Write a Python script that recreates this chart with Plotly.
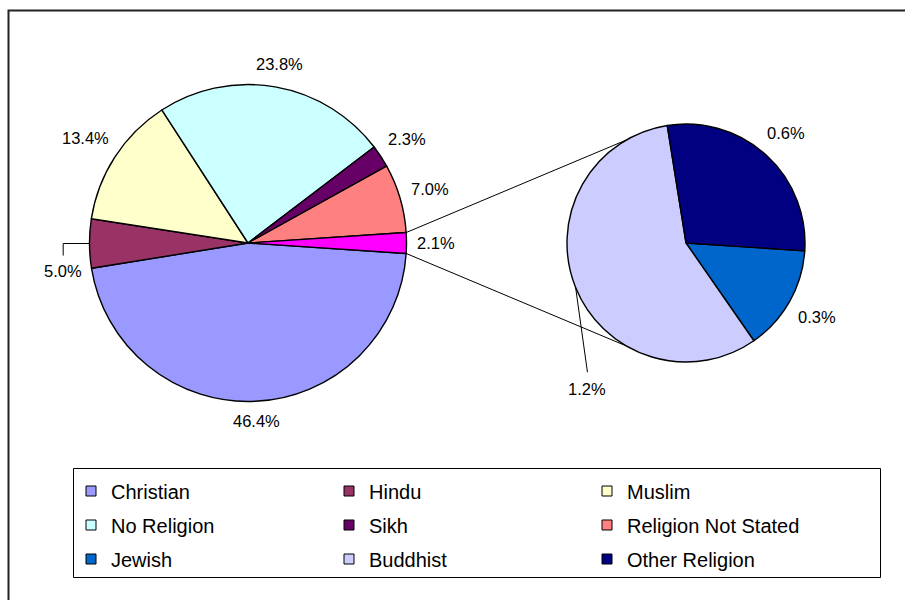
import math
import plotly.graph_objects as go

# ---------------- data ----------------
main_labels = ["Christian", "Hindu", "Muslim", "No Religion", "Sikh",
               "Religion Not Stated", "Other"]
main_values = [46.4, 5.0, 13.4, 23.8, 2.3, 7.0, 2.1]
main_colors = ["#9999FF", "#993366", "#FFFFCC", "#CCFFFF", "#660066",
               "#FF8080", "#FF00FF"]

sub_labels = ["Jewish", "Buddhist", "Other Religion"]
sub_values = [0.3, 1.2, 0.6]
sub_colors = ["#0066CC", "#CCCCFF", "#000080"]

legend_rows = [["Christian", "Hindu", "Muslim"],
               ["No Religion", "Sikh", "Religion Not Stated"],
               ["Jewish", "Buddhist", "Other Religion"]]

# ---------------- layout / style (pixels) ----------------
W, H = 905, 600
FONT = "Liberation Sans, Arial, sans-serif"
LABEL_SIZE = 16.5
mc = (248.0, 243.0); mr = 158.5
sc = (686.0, 243.0); sr = 119.0
LABEL_GAP = 11
# manually displaced labels (pixel offsets from their default spot) with leader lines
moved = {"Hindu": (3.5, 27.0), "Buddhist": (41.0, 90.0)}

all_colors = dict(zip(main_labels + sub_labels, main_colors + sub_colors))


def px_x(x):
    return x / W


def px_y(y):
    return 1 - y / H


total = sum(main_values)
half = 360.0 * main_values[-1] / total / 2.0
rotation = 90 + half           # first slice starts just below 3 o'clock

fig = go.Figure()

pies = [(main_labels, main_values, main_colors, mc, mr),
        (sub_labels, sub_values, sub_colors, sc, sr)]

annotations = []
shapes = []


def text_width(s, size):
    w = 0.0
    for ch in s:
        w += {".": 0.278, "%": 0.889}.get(ch, 0.556)
    return w * size


for labels, values, colors, c, r in pies:
    fig.add_trace(go.Pie(
        labels=labels, values=values, sort=False, direction="clockwise",
        rotation=rotation, showlegend=False, textinfo="none",
        marker=dict(colors=colors, line=dict(color="black", width=1.4)),
        domain=dict(x=[px_x(c[0] - r), px_x(c[0] + r)],
                    y=[px_y(c[1] + r), px_y(c[1] - r)]),
        hoverinfo="label+value",
    ))
    tot = sum(values)
    ang = half                  # clockwise from 3 o'clock (screen coords)
    for lab, v in zip(labels, values):
        span = 360.0 * v / tot
        mid = math.radians(ang + span / 2.0)
        ang += span
        txt = f"{v:.1f}%"
        dx, dy = math.cos(mid), math.sin(mid)
        w = text_width(txt, LABEL_SIZE)
        ext = abs(dx) * w / 2 + abs(dy) * 8
        d = r + LABEL_GAP + ext
        lx, ly = c[0] + dx * d, c[1] + dy * d
        if lab in moved:
            ox, oy = moved[lab]
            lx += ox; ly += oy
            ex, ey = c[0] + dx * r, c[1] + dy * r
            if abs(dx) > 0.99:   # horizontal then vertical elbow
                pts = [(ex, ey), (lx, ey), (lx, ly - 15)]
            else:
                pts = [(ex, ey), (lx, ly - 17)]
            for (x0, y0), (x1, y1) in zip(pts[:-1], pts[1:]):
                shapes.append(dict(type="line", xref="paper", yref="paper",
                                   x0=px_x(x0), y0=px_y(y0), x1=px_x(x1), y1=px_y(y1),
                                   line=dict(color="black", width=1)))
        annotations.append(dict(
            x=px_x(lx), y=px_y(ly), xref="paper", yref="paper",
            text=txt, showarrow=False, xanchor="center", yanchor="middle",
            font=dict(family=FONT, size=LABEL_SIZE, color="black")))

# legend entries (dummy traces), one legend per row
legend_names = ["legend", "legend2", "legend3"]
for row, lname in zip(legend_rows, legend_names):
    for lab in row:
        fig.add_trace(go.Scatter(
            x=[None], y=[None], mode="markers", name=lab, legend=lname,
            marker=dict(symbol="square", size=10, color=all_colors[lab],
                        line=dict(color="black", width=1)),
        ))

# connector lines between the combined slice and the secondary pie
for sgn in (1, -1):
    a = math.radians(half) * sgn
    x0 = mc[0] + mr * math.cos(a); y0 = mc[1] - mr * math.sin(a)
    b = math.radians(120) * sgn
    x1 = sc[0] + sr * math.cos(b); y1 = sc[1] - sr * math.sin(b)
    shapes.append(dict(type="line", xref="paper", yref="paper",
                       x0=px_x(x0), y0=px_y(y0), x1=px_x(x1), y1=px_y(y1),
                       line=dict(color="black", width=1)))
# chart border (extends beyond the picture on the right and bottom)
shapes.append(dict(type="rect", xref="paper", yref="paper",
                   x0=px_x(8.5), y0=px_y(640), x1=px_x(940), y1=px_y(10.5),
                   line=dict(color="#222222", width=2), layer="below"))
# legend box
shapes.append(dict(type="rect", xref="paper", yref="paper",
                   x0=px_x(73.5), y0=px_y(577.5), x1=px_x(880.5), y1=px_y(468.5),
                   line=dict(color="black", width=1)))

legend_common = dict(orientation="h", x=px_x(71), xanchor="left", yanchor="top",
                     entrywidth=213, entrywidthmode="pixels",
                     font=dict(family=FONT, size=20, color="black"),
                     bgcolor="rgba(0,0,0,0)", borderwidth=0,
                     itemclick=False, itemdoubleclick=False)
row_tops = [471.5, 505.5, 539.5]

fig.update_layout(
    width=W, height=H,
    margin=dict(l=0, r=0, t=0, b=0, autoexpand=False),
    paper_bgcolor="white", plot_bgcolor="white",
    font=dict(family=FONT, color="black"),
    xaxis=dict(visible=False), yaxis=dict(visible=False),
    shapes=shapes, annotations=annotations,
    legend=dict(y=px_y(row_tops[0]), **legend_common),
    legend2=dict(y=px_y(row_tops[1]), **legend_common),
    legend3=dict(y=px_y(row_tops[2]), **legend_common),
)

fig.write_html("out.html", config={"displayModeBar": False},
               post_script="document.body.style.margin='0';document.body.style.padding='0';")
